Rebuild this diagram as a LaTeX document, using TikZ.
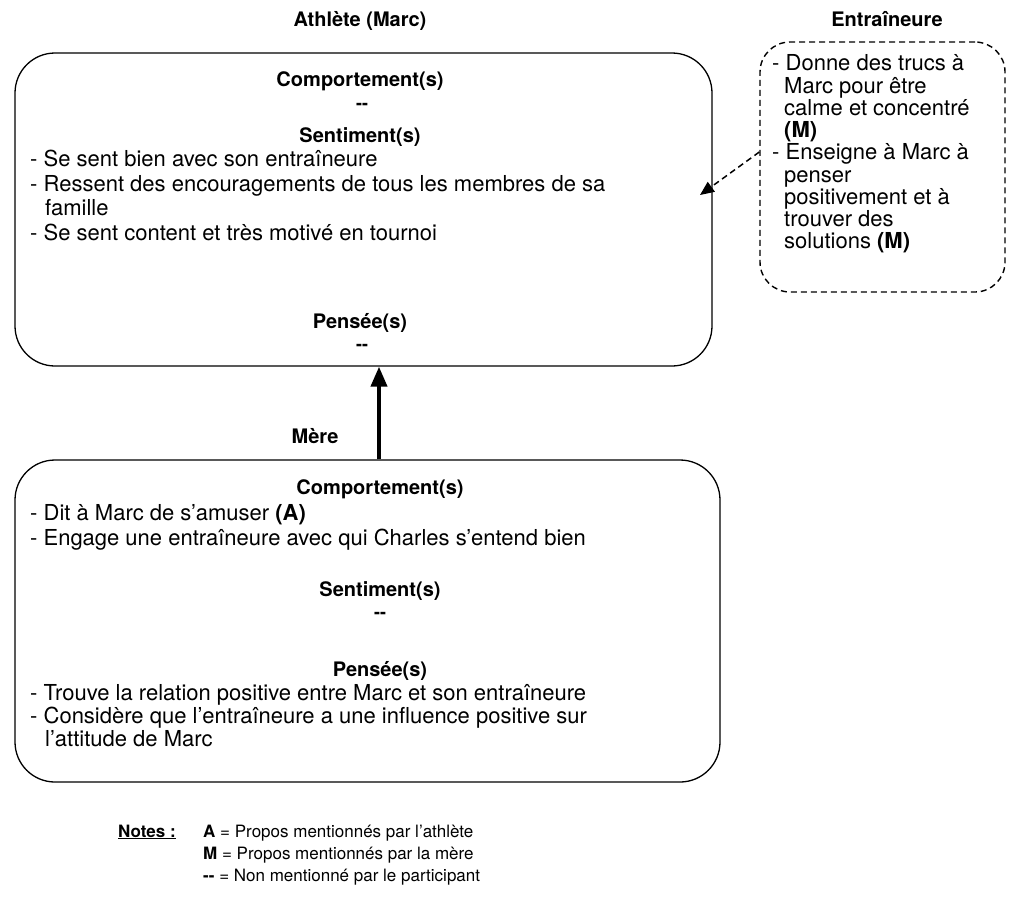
\documentclass[tikz,border=0pt]{standalone}
\usepackage{fontspec}
\setmainfont{TeX Gyre Heros}
\usetikzlibrary{arrows.meta}
\begin{document}
\begin{tikzpicture}[x=1pt,y=-1pt,
  every node/.style={inner sep=0pt, font=\fontsize{22}{24}\selectfont},
  head/.style={anchor=base, font=\fontsize{20}{24}\selectfont\bfseries},
  title/.style={anchor=base, font=\fontsize{20}{24}\selectfont\bfseries},
  nil/.style={anchor=base, font=\fontsize{18}{20}\selectfont\bfseries},
  ln/.style={anchor=base west},
  note/.style={anchor=base west, font=\fontsize{17}{20}\selectfont},
  box/.style={draw, line width=1.3pt, rounded corners=40pt},
  dbox/.style={draw, line width=1.4pt, rounded corners=30pt, dash pattern=on 6pt off 4pt},
  bigarrow/.style={line width=4pt, -{Triangle[length=20pt,width=16pt]}},
  dasharrow/.style={line width=1.5pt, dash pattern=on 6pt off 4pt, -{Triangle[length=14pt,width=12pt]}}]
\useasboundingbox (0,0) rectangle (1011,898);

% frames
\node[box, minimum width=697pt, minimum height=313pt] (athlete) at (363.5,209.5) {};
\node[box, minimum width=705pt, minimum height=322pt] (mere) at (367.5,621) {};
\node[dbox, minimum width=245pt, minimum height=250pt] (coach) at (882.5,167) {};

% titles
\node[title] (tA) at (360,26) {Athlète (Marc)};
\node[title] (tE) at (887,26) {Entraîneure};
\node[title] (tM) at (315,443) {Mère};

% athlete
\node[head] (aC) at (360,86) {Comportement(s)};
\node[nil] (aCd) at (362,109) {{-}{-}};
\node[head] (aS) at (360,142) {Sentiment(s)};
\node[ln] (aS1) at (30,166) {- Se sent bien avec son entraîneure};
\node[ln] (aS2) at (30,191) {- Ressent des encouragements de tous les membres de sa};
\node[ln] (aS3) at (45,215) {famille};
\node[ln] (aS4) at (30,240) {- Se sent content et très motivé en tournoi};
\node[head] (aP) at (360,328) {Pensée(s)};
\node[nil] (aPd) at (362,350) {{-}{-}};

% mother
\node[head] (mC) at (380,494) {Comportement(s)};
\node[ln] (mC1) at (30,520) {- Dit à Marc de s’amuser \textbf{(A)}};
\node[ln] (mC2) at (30,545) {- Engage une entraîneure avec qui Charles s’entend bien};
\node[head] (mS) at (380,596) {Sentiment(s)};
\node[nil] (mSd) at (380,618) {{-}{-}};
\node[head] (mP) at (380,676) {Pensée(s)};
\node[ln] (mP1) at (30,700) {- Trouve la relation positive entre Marc et son entraîneure};
\node[ln] (mP2) at (30,723) {- Considère que l’entraîneure a une influence positive sur};
\node[ln] (mP3) at (45,746) {l’attitude de Marc};

% coach
\node[ln] (e1) at (772,70) {- Donne des trucs à};
\node[ln] (e2) at (784,93) {Marc pour être};
\node[ln] (e3) at (784,115) {calme et concentré};
\node[ln] (e4) at (784,137) {\textbf{(M)}};
\node[ln] (e5) at (772,159) {- Enseigne à Marc à};
\node[ln] (e6) at (784,182) {penser};
\node[ln] (e7) at (784,204) {positivement et à};
\node[ln] (e8) at (784,226) {trouver des};
\node[ln] (e9) at (784,248) {solutions \textbf{(M)}};

% connectors
\coordinate (ax) at (379,0);
\draw[bigarrow] (mere.north -| ax) -- (athlete.south -| ax);
\coordinate (dstart) at (coach.west |- 0,152);
\coordinate (dtip) at (700,195);
\draw[dasharrow] (dstart) -- (dtip);

% notes
\node[note, font=\fontsize{17}{20}\selectfont\bfseries] (nT) at (118,837) {\underline{Notes\ :}};
\node[note] (n1) at (203,837) {\textbf{A} = Propos mentionnés par l’athlète};
\node[note] (n2) at (203,859) {\textbf{M} = Propos mentionnés par la mère};
\node[note] (n3) at (203,881) {\textbf{{-}{-}} = Non mentionné par le participant};
\end{tikzpicture}
\end{document}
